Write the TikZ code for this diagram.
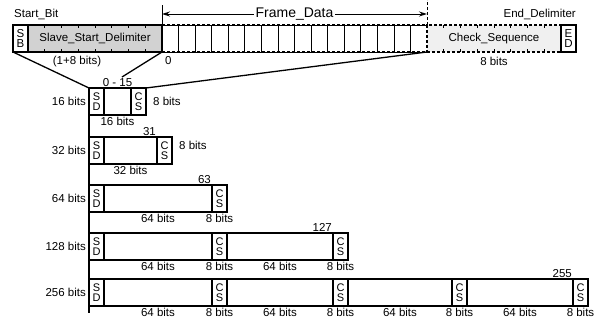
\documentclass[tikz,border=0pt]{standalone}
\usepackage{fontspec}
\setmainfont{Liberation Sans}
\usetikzlibrary{arrows.meta}

\tikzset{
  lbl/.style={inner sep=1pt, font=\fontsize{11.5}{12}\selectfont},
  cellbox/.style={draw, line width=1.6pt, anchor=north west, minimum height=27pt, inner sep=0pt, outer sep=0pt},
  tagcell/.style={cellbox, minimum width=15pt, align=center, font=\fontsize{11}{10.5}\selectfont},
  datcell/.style={cellbox},
  topcell/.style={draw, line width=1.1pt, anchor=north west, minimum height=27pt, inner sep=0pt, outer sep=0pt, font=\fontsize{11.5}{10.5}\selectfont, align=center},
  fan/.style={line width=1.3pt},
}

\begin{document}
\begin{tikzpicture}[x=1pt, y=-1pt, >={Stealth[length=8pt, width=5pt]}]
\useasboundingbox (0,0) rectangle (600,322);

% 顶部帧
\node[topcell, minimum width=15pt] (sb) at (13,25) {S\\B};
\node[topcell, minimum width=134pt, fill=gray!35] (ssd) at (sb.north east) {Slave\_Start\_Delimiter};
\foreach \i in {0,...,15}
  \node[topcell, line width=0.7pt, minimum width=16.5625pt] (fd\i) at ({162+16.5625*\i},25) {};
\draw[line width=1.2pt, densely dashed] (fd0.north west) -- (fd15.north east);
\draw[line width=1.2pt, densely dashed] (fd0.south west) -- (fd15.south east);
\node[topcell, densely dashed, minimum width=134pt, fill=gray!12] (chk) at (fd15.north east) {Check\_Sequence};
\node[topcell, minimum width=15pt] (ed) at (chk.north east) {E\\D};

% 位刻度
\foreach \k in {1,...,7} {
  \draw[line width=0.8pt] ({28+16.75*\k},25) -- ++(0,3);
  \draw[line width=0.8pt] ({28+16.75*\k},52) -- ++(0,-3);
  \draw[line width=0.8pt] ({427+16.75*\k},25) -- ++(0,3);
  \draw[line width=0.8pt] ({427+16.75*\k},52) -- ++(0,-3);
}

% Frame_Data 箭头
\draw[line width=1pt] (fd0.north west) -- ++(0,-20);
\draw[line width=1pt, densely dashed] (fd15.north east) -- ++(0,-25);
\draw[<->, line width=1pt] ([yshift=11pt]fd0.north west) -- ([yshift=11pt]fd15.north east)
  node[midway, fill=white, inner sep=2pt, font=\fontsize{14}{15}\selectfont] {Frame\_Data};

\node[lbl, anchor=west] (sbl) at (13,14) {Start\_Bit};
\node[lbl, anchor=east] (edl) at (577,14) {End\_Delimiter};
\node[lbl] (hdr) at (77,62) {(1+8 bits)};
\node[lbl, anchor=west] (zero) at (164,61) {0};
\node[lbl, anchor=north] (chkl) at ([yshift=-4pt]chk.south) {8 bits};

% 16 bits
\node[tagcell] (sd16) at (89,88) {S\\D};
\node[datcell, minimum width=27pt] (d16) at (sd16.north east) {};
\node[tagcell] (cs16) at (d16.north east) {C\\S};
\node[lbl, anchor=east] at ([xshift=-2pt]sd16.west) {16 bits};
\node[lbl, anchor=west] at ([xshift=6pt]cs16.east) {8 bits};
\node[lbl, anchor=south] at ([yshift=0pt]d16.north) {0 - 15};
\node[lbl, anchor=north] at ([yshift=-1pt]d16.south) {16 bits};

% 32 bits
\node[tagcell] (sd32) at (89,137) {S\\D};
\node[datcell, minimum width=53pt] (d32) at (sd32.north east) {};
\node[tagcell] (cs32) at (d32.north east) {C\\S};
\node[lbl, anchor=east] at ([xshift=-2pt]sd32.west) {32 bits};
\node[lbl, anchor=west] at ([xshift=6pt, yshift=5pt]cs32.east) {8 bits};
\node[lbl, anchor=south east] at (d32.north east) {31};
\node[lbl, anchor=north] at ([yshift=-1pt]d32.south) {32 bits};

% 64 bits
\node[tagcell] (sd64) at (89,185) {S\\D};
\node[datcell, minimum width=108pt] (d64) at (sd64.north east) {};
\node[tagcell] (cs64) at (d64.north east) {C\\S};
\node[lbl, anchor=east] at ([xshift=-2pt]sd64.west) {64 bits};
\node[lbl, anchor=south east] at (d64.north east) {63};
\foreach \n/\t in {d64/64 bits, cs64/8 bits}
  \node[lbl, anchor=north] at ([yshift=-1pt]\n.south) {\t};

% 128 bits
\node[tagcell] (sd128) at (89,233) {S\\D};
\node[datcell, minimum width=108pt] (d128a) at (sd128.north east) {};
\node[tagcell] (cs128a) at (d128a.north east) {C\\S};
\node[datcell, minimum width=106pt] (d128b) at (cs128a.north east) {};
\node[tagcell] (cs128b) at (d128b.north east) {C\\S};
\node[lbl, anchor=east] at ([xshift=-2pt]sd128.west) {128 bits};
\node[lbl, anchor=south east] at (d128b.north east) {127};
\foreach \n/\t in {d128a/64 bits, cs128a/8 bits, d128b/64 bits, cs128b/8 bits}
  \node[lbl, anchor=north] at ([yshift=-1pt]\n.south) {\t};

% 256 bits
\node[tagcell] (sd256) at (89,279) {S\\D};
\node[datcell, minimum width=108pt] (d256a) at (sd256.north east) {};
\node[tagcell] (cs256a) at (d256a.north east) {C\\S};
\node[datcell, minimum width=106pt] (d256b) at (cs256a.north east) {};
\node[tagcell] (cs256b) at (d256b.north east) {C\\S};
\node[datcell, minimum width=104pt] (d256c) at (cs256b.north east) {};
\node[tagcell] (cs256c) at (d256c.north east) {C\\S};
\node[datcell, minimum width=106pt] (d256d) at (cs256c.north east) {};
\node[tagcell] (cs256d) at (d256d.north east) {C\\S};
\node[lbl, anchor=east] at ([xshift=-2pt]sd256.west) {256 bits};
\node[lbl, anchor=south east] at (d256d.north east) {255};
\foreach \n/\t in {d256a/64 bits, cs256a/8 bits, d256b/64 bits, cs256b/8 bits, d256c/64 bits, cs256c/8 bits, d256d/64 bits, cs256d/8 bits}
  \node[lbl, anchor=north] at ([yshift=-1pt]\n.south) {\t};

% 纵轴与展开线
\coordinate (axend) at (89,313);
\coordinate (ptr) at (122,77);
\draw[line width=1.6pt] (sd16.north west) -- (axend);
\draw[fan] (sb.south west) -- (sd16.north west);
\draw[fan] (ssd.south east) -- (ptr);
\draw[fan] (fd15.south east) -- (cs16.north east);
\end{tikzpicture}
\end{document}
